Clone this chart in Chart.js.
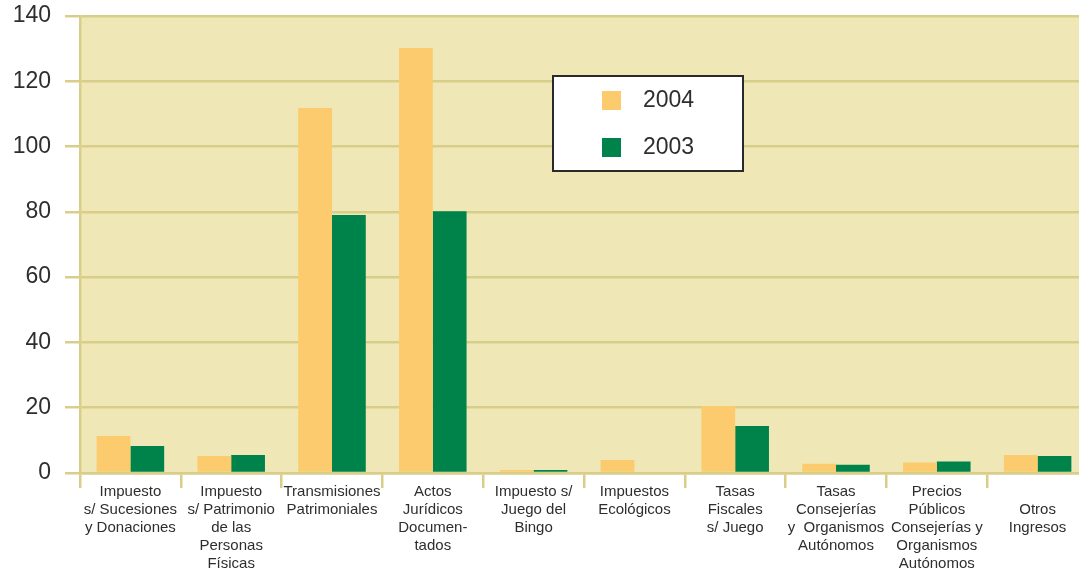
<!DOCTYPE html>
<html>
<head>
<meta charset="utf-8">
<script src="https://cdn.jsdelivr.net/npm/chart.js@4/dist/chart.umd.min.js"></script>
<style>
  html, body { margin: 0; padding: 0; background: #fff; overflow: hidden; }
  #wrap { position: relative; width: 1090px; height: 568px; }
</style>
</head>
<body>
<div id="wrap"><canvas id="taxChart"></canvas></div>
<script>
const categories = [
  ["Impuesto", "s/ Sucesiones", "y Donaciones"],
  ["Impuesto", "s/ Patrimonio", "de las", "Personas", "Físicas"],
  ["Transmisiones", "Patrimoniales"],
  ["Actos", "Jurídicos", "Documen-", "tados"],
  ["Impuesto s/", "Juego del", "Bingo"],
  ["Impuestos", "Ecológicos"],
  ["Tasas", "Fiscales", "s/ Juego"],
  ["Tasas", "Consejerías", "y  Organismos", "Autónomos"],
  ["Precios", "Públicos", "Consejerías y", "Organismos", "Autónomos"],
  ["", "Otros", "Ingresos"],
];
const seriesNames = ["2004", "2003"];
const values2004 = [11.3, 5.2, 111.8, 130.2, 0.9, 4.0, 20.5, 2.8, 3.2, 5.5];
const values2003 = [8.3, 5.5, 79.0, 80.2, 0.9, 0, 14.4, 2.5, 3.5, 5.2];
const yTicks = [0, 20, 40, 60, 80, 100, 120, 140];

const GRID = "#d8ce8a";
const TEXT = "#2e2e2e";

const plotBackground = {
  id: "plotBackground",
  beforeDraw(chart) {
    const { ctx, chartArea: a } = chart;
    ctx.save();
    ctx.fillStyle = "#efe8b6";
    ctx.fillRect(a.left, a.top, a.right - a.left, a.bottom - a.top);
    ctx.restore();
  },
};

// legend box drawn inside the plot area
const boxLegend = {
  id: "boxLegend",
  afterDraw(chart) {
    const { ctx, chartArea: a } = chart;
    const x = a.left + 473, y = a.top + 60, w = 190, h = 95;
    ctx.save();
    ctx.fillStyle = "#fff";
    ctx.fillRect(x, y, w, h);
    ctx.strokeStyle = "#2a2a2a";
    ctx.lineWidth = 2;
    ctx.strokeRect(x, y, w, h);
    ctx.font = "23px 'Liberation Sans', Arial, sans-serif";
    ctx.textBaseline = "middle";
    chart.data.datasets.forEach((ds, i) => {
      const cy = y + 24 + i * 47;
      ctx.fillStyle = ds.backgroundColor;
      ctx.fillRect(x + 49, cy - 9, 19, 19);
      ctx.fillStyle = TEXT;
      ctx.fillText(ds.label, x + 90, cy + 1);
    });
    ctx.restore();
  },
};

new Chart(document.getElementById("taxChart"), {
  type: "bar",
  data: {
    labels: categories,
    datasets: [
      { label: seriesNames[0], data: values2004, backgroundColor: "#fccb6e" },
      { label: seriesNames[1], data: values2003, backgroundColor: "#00834a" },
    ],
  },
  options: {
    responsive: true,
    maintainAspectRatio: false,
    animation: false,
    layout: { padding: { top: 16, right: 2 } },
    datasets: { bar: { categoryPercentage: 0.67, barPercentage: 1.0 } },
    plugins: { legend: { display: false }, tooltip: { enabled: false } },
    scales: {
      x: {
        grid: { offset: true, drawOnChartArea: false, color: GRID, lineWidth: 2.5, tickLength: 15 },
        border: { color: GRID, width: 2.5 },
        ticks: {
          color: TEXT,
          padding: -5,
          maxRotation: 0,
          autoSkip: false,
          font: { family: "'Liberation Sans', Arial, sans-serif", size: 15, lineHeight: 1.2 },
        },
        afterFit(scale) { scale.height = 95; },
      },
      y: {
        min: 0,
        max: 140,
        afterBuildTicks(scale) { scale.ticks = yTicks.map((v) => ({ value: v })); },
        grid: { color: GRID, lineWidth: 2.5, tickLength: 15 },
        border: { color: GRID, width: 2.5 },
        ticks: {
          color: TEXT,
          padding: 14,
          font: { family: "'Liberation Sans', Arial, sans-serif", size: 23 },
        },
        afterFit(scale) {
          scale.width = 80;
          scale.paddingTop = 0;
          scale.paddingBottom = 0;
        },
      },
    },
  },
  plugins: [plotBackground, boxLegend],
});
</script>
</body>
</html>
